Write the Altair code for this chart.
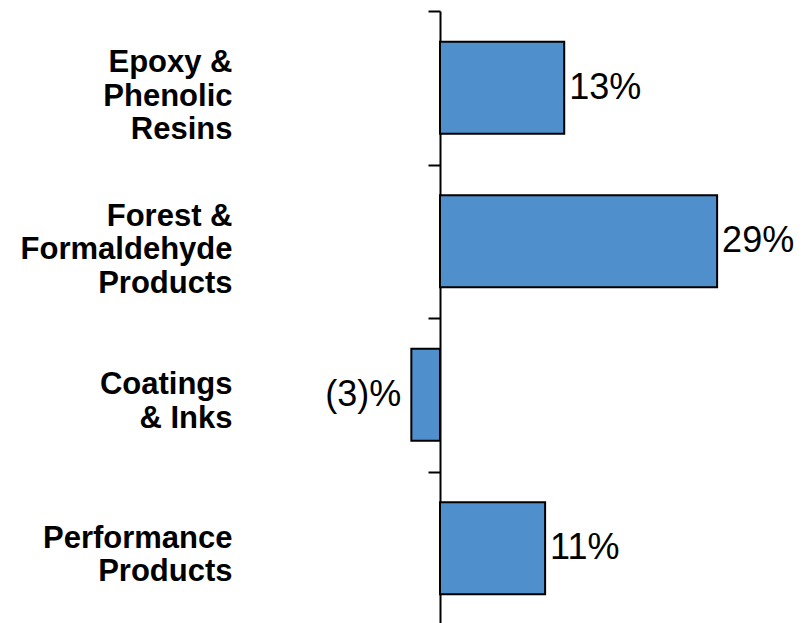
import altair as alt
import pandas as pd

categories = [
    "Epoxy &|Phenolic|Resins",
    "Forest &|Formaldehyde|Products",
    "Coatings|& Inks",
    "Performance|Products",
]
values = [13, 29, -3, 11]
value_labels = ["13%", "29%", "(3)%", "11%"]

df = pd.DataFrame({"segment": categories, "growth": values, "label": value_labels})

y_enc = alt.Y(
    "segment:N",
    sort=None,
    scale=alt.Scale(paddingInner=0, paddingOuter=0, range=[0, 614]),
    axis=alt.Axis(
        title=None,
        labelExpr="split(datum.label, '|')",
        labelFont="Liberation Sans",
        labelFontSize=31,
        labelFontWeight="bold",
        labelColor="black",
        labelLineHeight=33.5,
        labelAlign="right",
        labelBaseline="middle",
        labelPadding=196,
        labelOffset={
            "condition": {"test": "length(split(datum.label, '|')) > 2", "value": -25},
            "value": -10,
        },
        labelLimit=0,
        tickBand="extent",
        tickColor="black",
        tickWidth=2,
        tickSize=12,
        domainColor="black",
        domainWidth=2,
        grid=False,
    ),
)

x_scale = alt.Scale(domain=[0, 36], nice=False, zero=False)

base = alt.Chart(df).encode(y=y_enc)

bars = base.mark_bar(
    height={"band": 0.6}, color="#4F8FCC", stroke="black", strokeWidth=2
).encode(
    x=alt.X("growth:Q", scale=x_scale, axis=None),
    x2=alt.datum(0),
)

pos_text = base.transform_filter("datum.growth >= 0").mark_text(
    align="left", baseline="middle", dx=5, fontSize=36,
    font="Liberation Sans", color="black"
).encode(x=alt.X("growth:Q", scale=x_scale, axis=None), text="label:N")

neg_text = base.transform_filter("datum.growth < 0").mark_text(
    align="right", baseline="middle", dx=-10, fontSize=36,
    font="Liberation Sans", color="black"
).encode(x=alt.X("growth:Q", scale=x_scale, axis=None), text="label:N")

chart = alt.layer(bars, pos_text, neg_text).properties(
    width=344,
    height=612,
    autosize=alt.AutoSizeParams(type="none"),
    padding={"left": 440, "top": 11, "right": 24, "bottom": 0},
).configure_view(stroke=None)

chart.save("out.html", embed_options={"renderer": "svg", "actions": False})
